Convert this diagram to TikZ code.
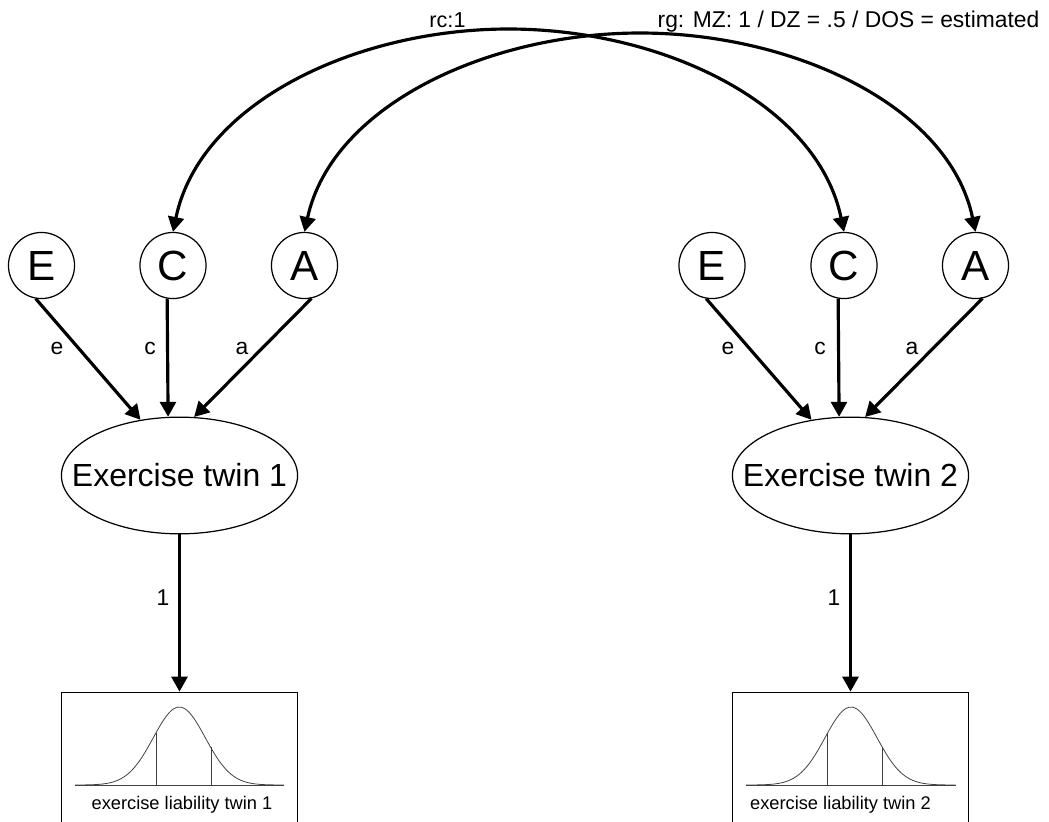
\documentclass[tikz,border=0pt]{standalone}
\usepackage{fontspec}
\setmainfont{Liberation Sans}
\usetikzlibrary{arrows.meta,shapes.geometric}
\tikzset{
    latent/.style={draw,circle,line width=0.7pt,inner sep=0pt,minimum size=37.6pt,font=\fontsize{24}{24}\selectfont},
    factor/.style={draw,ellipse,line width=0.7pt,inner sep=-14.5pt,minimum width=134.4pt,minimum height=66.4pt,font=\fontsize{18.2}{18.2}\selectfont},
    measure/.style={draw,rectangle,line width=0.8pt,inner sep=0pt,minimum width=134.5pt,minimum height=77pt},
    link/.style={-{Triangle[length=8.5pt,width=9pt]},line width=1.8pt},
    corr/.style={{Triangle[length=8.5pt,width=9pt]}-{Triangle[length=8.5pt,width=9pt]},line width=1.8pt},
    lbl/.style={inner sep=0pt,font=\fontsize{13}{13}\selectfont},
    small/.style={inner sep=0pt,font=\fontsize{10.4}{10.4}\selectfont},
    bell/.style={line width=0.45pt,black!75},
}
\begin{document}
\begin{tikzpicture}[x=0.02cm,y=-0.02cm]

    \clip (0,0) rectangle (1049,822);

    %left twin
    \node[latent] (E1) at (41.5,265.5) {E};
    \node[latent] (C1) at (173,265.5) {C};
    \node[latent] (A1) at (304.5,265.5) {A};
    \node[factor] (F1) at (179.5,475.5) {Exercise twin 1};
    \node[measure] (B1) at (179.5,760) {};

    \draw[link] (E1.-100) -- (F1.125);
    \draw[link] (C1.-100) -- (F1.101.5);
    \draw[link] (A1.-78) -- (F1.76.6);
    \draw[link] (F1) -- (B1);

    \node[lbl] at (57,348) {e};
    \node[lbl] at (150,348) {c};
    \node[lbl] at (242,348) {a};
    \node[lbl] at (163,598) {1};

    %left curve
    \draw[bell] (75,785) -- (284,785);
    \draw[bell] plot[domain=75:284,samples=60,smooth] (\x,{785-78*exp(-(\x-179.3)*(\x-179.3)/(2*26*26))});
    \draw[bell] (156,785) -- (156,733);
    \draw[bell] (211,785) -- (211,747);
    \node[small] at (182,805) {exercise liability twin 1};

    %right twin
    \node[latent] (E2) at (712,265.5) {E};
    \node[latent] (C2) at (844,265.5) {C};
    \node[latent] (A2) at (975.5,265.5) {A};
    \node[factor] (F2) at (850.5,475.5) {Exercise twin 2};
    \node[measure] (B2) at (850.5,760) {};

    \draw[link] (E2.-100) -- (F2.125);
    \draw[link] (C2.-100) -- (F2.101.5);
    \draw[link] (A2.-78) -- (F2.76.6);
    \draw[link] (F2) -- (B2);

    \node[lbl] at (728,348) {e};
    \node[lbl] at (820,348) {c};
    \node[lbl] at (912,348) {a};
    \node[lbl] at (834,598) {1};

    %right curve
    \draw[bell] (746,785) -- (955.5,785);
    \draw[bell] plot[domain=746:955.5,samples=60,smooth] (\x,{785-78*exp(-(\x-851)*(\x-851)/(2*26*26))});
    \draw[bell] (827.3,785) -- (827.3,733);
    \draw[bell] (882.3,785) -- (882.3,747);
    \node[small] at (840.5,805) {exercise liability twin 2};

    %correlations
    \draw[corr] (C1.north) .. controls (200,102) and (357,29) .. (508.5,29) .. controls (660,29) and (817,102) .. (C2.north);
    \draw[corr] (A1.north) .. controls (332,105) and (489,33) .. (640,33) .. controls (792,33) and (949,105) .. (A2.north);

    \node[lbl,anchor=base,font=\fontsize{12.3}{12.3}\selectfont] at (447.5,27) {rc:1};
    \node[lbl,anchor=base] at (848.5,27) {rg: MZ: 1 / DZ = .5 / DOS = estimated};

\end{tikzpicture}
\end{document}
